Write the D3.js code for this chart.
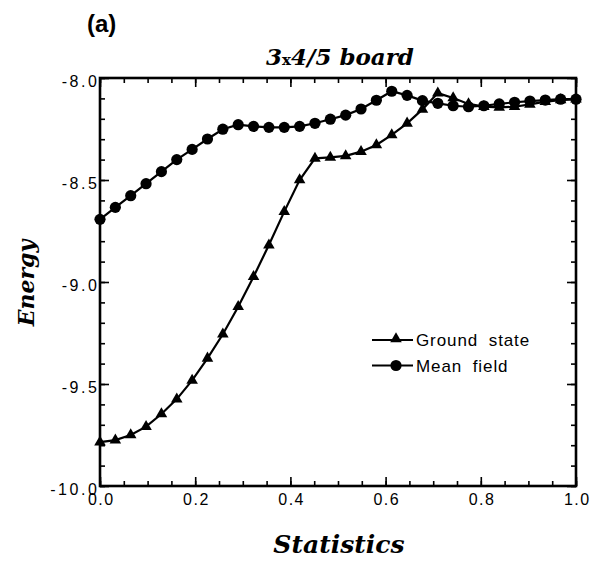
<!DOCTYPE html>
<html><head><meta charset="utf-8">
<script src="https://cdn.jsdelivr.net/npm/d3@7"></script>
<style>body{margin:0;background:#fff}</style>
</head><body>
<svg id="c" width="598" height="562"></svg>
<script>
const xValues = d3.range(32).map(i => i / 31);
const groundState = [-9.785,-9.775,-9.750,-9.709,-9.647,-9.574,-9.482,-9.374,-9.256,-9.121,-8.974,-8.819,-8.655,-8.500,-8.394,-8.389,-8.382,-8.361,-8.328,-8.279,-8.222,-8.154,-8.074,-8.098,-8.127,-8.140,-8.144,-8.141,-8.129,-8.116,-8.108,-8.104];
const meanField = [-8.693,-8.634,-8.577,-8.518,-8.459,-8.400,-8.350,-8.299,-8.251,-8.229,-8.237,-8.242,-8.242,-8.237,-8.222,-8.202,-8.182,-8.152,-8.109,-8.065,-8.085,-8.111,-8.124,-8.136,-8.141,-8.136,-8.127,-8.119,-8.113,-8.108,-8.104,-8.104];
const xTicks = [0, 0.2, 0.4, 0.6, 0.8, 1.0];
const yTicks = [-10, -9.5, -9, -8.5, -8];
const seriesNames = ["Ground state", "Mean field"];

const svg = d3.select("#c");
const L = 100, R = 576, T = 78, B = 486;
const x = d3.scaleLinear().domain([0, 1]).range([L, R]);
const y = d3.scaleLinear().domain([-10, -8]).range([B, T]);
const tickFont = "'Liberation Sans', Arial, sans-serif";
const serif = "'DejaVu Serif', serif";
const fmt = d => d.toFixed(1).replace("\u2212", "-");

// minor ticks
const xMinor = d3.range(0, 1.0001, 0.05);
const yMinor = d3.range(-10, -7.999, 0.1);
svg.append("g").attr("transform", `translate(0,${B})`)
  .call(d3.axisBottom(x).tickValues(xMinor).tickSize(-5).tickFormat(""))
  .call(g => g.select(".domain").remove());
svg.append("g").attr("transform", `translate(0,${T})`)
  .call(d3.axisTop(x).tickValues(xMinor).tickSize(-5).tickFormat(""))
  .call(g => g.select(".domain").remove());
svg.append("g").attr("transform", `translate(${L},0)`)
  .call(d3.axisLeft(y).tickValues(yMinor).tickSize(-5).tickFormat(""))
  .call(g => g.select(".domain").remove());
svg.append("g").attr("transform", `translate(${R},0)`)
  .call(d3.axisRight(y).tickValues(yMinor).tickSize(-5).tickFormat(""))
  .call(g => g.select(".domain").remove());

// major ticks
const gx = svg.append("g").attr("transform", `translate(0,${B})`)
  .call(d3.axisBottom(x).tickValues(xTicks).tickSize(-9).tickPadding(8).tickFormat(fmt));
gx.select(".domain").remove();
gx.selectAll("text").attr("font-family", tickFont).attr("font-size", 16).attr("fill", "#000")
  .attr("letter-spacing", "1.5").attr("dx", "0.75");
svg.append("g").attr("transform", `translate(0,${T})`)
  .call(d3.axisTop(x).tickValues(xTicks).tickSize(-9).tickFormat(""))
  .call(g => g.select(".domain").remove());
const gy = svg.append("g").attr("transform", `translate(${L},0)`)
  .call(d3.axisLeft(y).tickValues(yTicks).tickSize(-9).tickPadding(3).tickFormat(fmt));
gy.select(".domain").remove();
gy.selectAll("text").attr("font-family", tickFont).attr("font-size", 16).attr("fill", "#000")
  .attr("letter-spacing", "2.6").attr("dx", "2.6").attr("dy", "0.55em");
svg.append("g").attr("transform", `translate(${R},0)`)
  .call(d3.axisRight(y).tickValues(yTicks).tickSize(-9).tickFormat(""))
  .call(g => g.select(".domain").remove());
svg.selectAll(".tick line").attr("stroke", "#000").attr("stroke-width", 1.6);

// frame
svg.append("rect").attr("x", L).attr("y", T).attr("width", R - L).attr("height", B - T)
  .attr("fill", "none").attr("stroke", "#000").attr("stroke-width", 2.6);

const line = d3.line().x(d => x(d[0])).y(d => y(d[1]));
const gsData = xValues.map((v, i) => [v, groundState[i]]);
const mfData = xValues.map((v, i) => [v, meanField[i]]);
const tri = d3.symbol().type(d3.symbolTriangle).size(58);

svg.append("path").datum(gsData).attr("d", line).attr("fill", "none").attr("stroke", "#000").attr("stroke-width", 2.2);
svg.append("path").datum(mfData).attr("d", line).attr("fill", "none").attr("stroke", "#000").attr("stroke-width", 2.2);
svg.append("g").selectAll("path").data(gsData).join("path")
  .attr("d", tri).attr("transform", d => `translate(${x(d[0])},${y(d[1])})`).attr("fill", "#000");
svg.append("g").selectAll("circle").data(mfData).join("circle")
  .attr("cx", d => x(d[0])).attr("cy", d => y(d[1])).attr("r", 5.6).attr("fill", "#000");

// legend
const lg = svg.append("g");
seriesNames.forEach((name, i) => {
  const yy = 340 + i * 25.5;
  lg.append("line").attr("x1", 372).attr("x2", 413).attr("y1", yy).attr("y2", yy).attr("stroke", "#000").attr("stroke-width", 2.2);
  if (i === 0) lg.append("path").attr("d", tri).attr("transform", `translate(396,${yy - 1})`).attr("fill", "#000");
  else lg.append("circle").attr("cx", 396).attr("cy", yy).attr("r", 5.6).attr("fill", "#000");
  lg.append("text").attr("x", 416).attr("y", yy + 6).text(name)
    .attr("font-family", tickFont).attr("font-size", 17).attr("word-spacing", "5").attr("letter-spacing", "0.9");
});

// labels
svg.append("text").attr("x", 87).attr("y", 32).text("(a)")
  .attr("font-family", "'Liberation Sans', Arial, sans-serif").attr("font-weight", "bold").attr("font-size", 24);
const title = svg.append("text").attr("x", 340).attr("y", 65).attr("text-anchor", "middle")
  .attr("font-family", serif).attr("font-weight", "bold").attr("font-style", "italic").attr("font-size", 23);
title.append("tspan").text("3");
title.append("tspan").text("x").attr("font-size", 15).attr("font-style", "normal");
title.append("tspan").text("4/5 board");
svg.append("text").attr("transform", "translate(34,283) rotate(-90)").attr("text-anchor", "middle").text("Energy")
  .attr("font-family", serif).attr("font-weight", "bold").attr("font-style", "italic").attr("font-size", 22);
svg.append("text").attr("x", 339).attr("y", 553).attr("text-anchor", "middle").text("Statistics")
  .attr("font-family", serif).attr("font-weight", "bold").attr("font-style", "italic").attr("font-size", 25);
</script>
</body></html>
